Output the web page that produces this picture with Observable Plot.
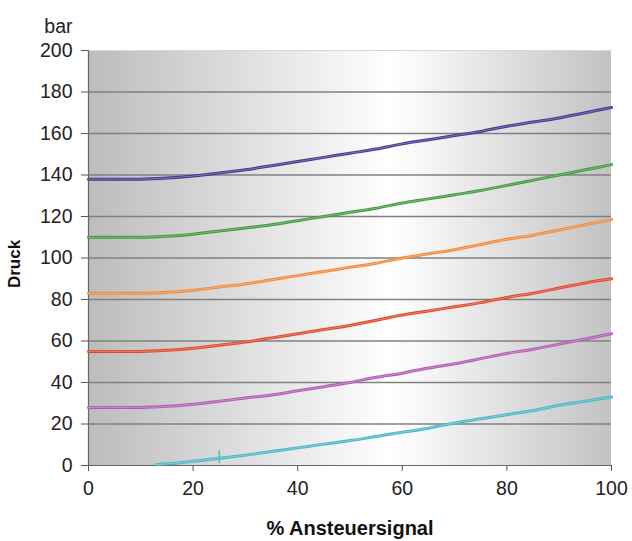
<!DOCTYPE html>
<html><head><meta charset="utf-8">
<script src="https://cdn.jsdelivr.net/npm/d3@7"></script>
<script src="https://cdn.jsdelivr.net/npm/@observablehq/plot@0.6"></script>
<style>
body{margin:0;background:#fff;font-family:"Liberation Sans",Arial,sans-serif;}
</style></head>
<body><div id="chart"></div>
<script>
const xs      = [0, 5, 10, 15, 20, 25, 30, 35, 40, 45, 50, 55, 60, 65, 70, 75, 80, 85, 90, 95, 100];
const navy    = [138,138,138,138.5,139.5,141,142.5,144.5,146.5,148.5,150.5,152.5,155,157,159,161,163.5,165.5,167.5,170,172.5];
const green   = [110,110,110,110.5,111.5,113,114.5,116,118,120,122,124,126.5,128.5,130.5,132.5,135,137.5,140,142.5,145];
const orange  = [83,83,83,83.5,84.5,86,87.5,89.5,91.5,93.5,95.5,97.5,100,102,104,106.5,109,111,113.5,116,118.5];
const red     = [55,55,55,55.5,56.5,58,59.5,61.5,63.5,65.5,67.5,70,72.5,74.5,76.5,78.5,81,83,85.5,88,90];
const magenta = [28,28,28,28.5,29.5,31,32.5,34,36,38,40,42.5,44.5,47,49,51.5,54,56,58.5,61,63.5];
const cyanX   = [13, 15, 20, 25, 30, 35, 40, 45, 50, 55, 60, 65, 70, 75, 80, 85, 90, 95, 100];
const cyan    = [0.5,0.8,2,3.5,5,6.7,8.5,10.3,12,14,16,18,20.5,22.5,24.5,26.5,29,31,33];
const spike   = {x: 25, y1: 1, y2: 7};
const yTicks  = [0,20,40,60,80,100,120,140,160,180,200];
const xTicks  = [0,20,40,60,80,100];

const series = [
  {name:"navy", color:"#3d3a8c", x: xs, y: navy},
  {name:"green", color:"#3f9a3c", x: xs, y: green},
  {name:"orange", color:"#f0893c", x: xs, y: orange},
  {name:"red", color:"#e4452c", x: xs, y: red},
  {name:"magenta", color:"#b25ab4", x: xs, y: magenta},
  {name:"cyan", color:"#4bb6c6", x: cyanX, y: cyan}
];
const rows = series.flatMap(s => s.x.map((x,i) => ({x, y: s.y[i], name: s.name, color: s.color})));

function background(index, scales, values, dims) {
  const g = d3.create("svg:g");
  const defs = g.append("defs");
  const lg = defs.append("linearGradient").attr("id","bggrad").attr("x1","0").attr("x2","1").attr("y1","0").attr("y2","0");
  lg.append("stop").attr("offset","0%").attr("stop-color","#bcbcbc");
  lg.append("stop").attr("offset","58%").attr("stop-color","#ffffff");
  lg.append("stop").attr("offset","100%").attr("stop-color","#c2c2c2");
  g.append("rect")
    .attr("x", dims.marginLeft).attr("y", dims.marginTop)
    .attr("width", dims.width - dims.marginLeft - dims.marginRight)
    .attr("height", dims.height - dims.marginTop - dims.marginBottom)
    .attr("fill","url(#bggrad)");
  return g.node();
}

const chart = Plot.plot({
  width: 632, height: 541,
  marginLeft: 88, marginRight: 21, marginTop: 50, marginBottom: 76,
  style: {fontFamily: "'Liberation Sans', Arial, sans-serif", fontSize: "19.5px", color: "#222", background: "#fff"},
  x: {domain: [0,100]},
  y: {domain: [0,200]},
  marks: [
    background,
    Plot.ruleY(yTicks.filter(d => d > 0 && d < 200), {stroke: "#808080", strokeWidth: 1.6}),
    Plot.ruleY([200], {stroke: "#d8d8d8", strokeWidth: 1}),
    Plot.axisY({ticks: yTicks, tickSize: 7, tickPadding: 9, label: null, stroke: "#555", fontSize: 19.5, tickFormat: d => d}),
    Plot.axisX({ticks: xTicks, tickSize: 6, tickPadding: 10, label: null, stroke: "#555", fontSize: 19.5, tickFormat: d => d}),
    Plot.ruleX([0], {stroke: "#666", strokeWidth: 1.2}),
    Plot.ruleY([0], {stroke: "#666", strokeWidth: 1.2}),
    Plot.ruleX([spike], {x: "x", y1: "y1", y2: "y2", stroke: "#4bb6c6", strokeWidth: 1.5}),
    Plot.line(rows, {x: "x", y: "y", z: "name", stroke: "color", strokeWidth: 3, curve: "monotone-x"}),
    Plot.line(rows, {x: "x", y: "y", z: "name", stroke: "#ffffff", strokeOpacity: 0.35, strokeWidth: 0.9, curve: "monotone-x"}),
    Plot.text(["bar"], {frameAnchor: "top-left", dx: -16, dy: -31, textAnchor: "end", fontSize: 19.5, fill: "#222"}),
    Plot.text(["Druck"], {frameAnchor: "left", dx: -74, dy: 6, rotate: -90, textAnchor: "middle", fontSize: 17, fontWeight: "bold", fill: "#111"}),
    Plot.text(["% Ansteuersignal"], {frameAnchor: "bottom", dy: 69, fontSize: 20, fontWeight: "bold", fill: "#111"})
  ]
});
document.getElementById("chart").appendChild(chart);
</script>
</body></html>
